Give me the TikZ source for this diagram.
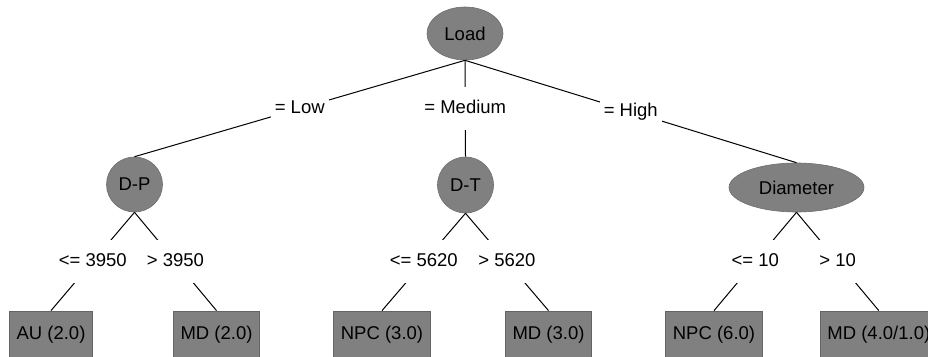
\documentclass[tikz,border=0pt]{standalone}
\usepackage{fontspec}
\setmainfont{Liberation Sans}
\usetikzlibrary{shapes.geometric}
\definecolor{nodegray}{RGB}{128,128,128}
\definecolor{edgegray}{RGB}{100,100,100}
\tikzset{
  every node/.style={font=\fontsize{18.5}{22}\selectfont},
  splitnode/.style={ellipse, fill=nodegray, draw=nodegray!85!black, line width=0.6pt, inner sep=0pt},
  leafbox/.style={rectangle, fill=nodegray, draw=edgegray, line width=0.8pt, minimum height=46pt, inner xsep=7pt, inner ysep=0pt, text height=13.5pt, text depth=3.5pt},
  branch/.style={draw=black, line width=1pt},
  cond/.style={fill=white, inner xsep=4pt, inner ysep=0pt, minimum height=43pt, text height=13.5pt, text depth=3.5pt},
}
\begin{document}
\begin{tikzpicture}[x=1pt, y=-1pt]
  \useasboundingbox (0,0) rectangle (928,356);
  \clip (0,0) rectangle (928,356);

  % split nodes
  \node[splitnode, minimum width=76pt, minimum height=53pt] (load) at (465,33.5) {Load};
  \node[splitnode, minimum width=56pt, minimum height=55pt] (dp) at (134.5,184.5) {D-P};
  \node[splitnode, minimum width=56pt, minimum height=56pt] (dt) at (465.5,185) {D-T};
  \node[splitnode, minimum width=135pt, minimum height=49pt] (diam) at (796.5,187.5) {Diameter};

  % leaves
  \node[leafbox] (au)   at (51,334)    {AU (2.0)};
  \node[leafbox] (md1)  at (216.5,334) {MD (2.0)};
  \node[leafbox] (npc1) at (382,334)   {NPC (3.0)};
  \node[leafbox] (md2)  at (548.5,334) {MD (3.0)};
  \node[leafbox] (npc2) at (714,334)   {NPC (6.0)};
  \node[leafbox, anchor=west] (md3) at (820,334) {MD (4.0/1.0)};

  % branches with their conditions
  \path[branch] (load.south) -- node[cond] (cLow) {= Low} (dp.north);
  \path[branch] (load.south) -- node[cond] (cMed) {= Medium} (dt.north);
  \path[branch] (load.south) -- node[cond] (cHigh) {= High} (diam.north);

  \path[branch] (dp.south) -- node[cond] (c1) {<= 3950} (au.north);
  \path[branch] (dp.south) -- node[cond] (c2) {> 3950} (md1.north);
  \path[branch] (dt.south) -- node[cond] (c3) {<= 5620} (npc1.north);
  \path[branch] (dt.south) -- node[cond] (c4) {> 5620} (md2.north);
  \path[branch] (diam.south) -- node[cond] (c5) {<= 10} (npc2.north);
  \path[branch] (diam.south) -- node[cond] (c6) {> 10} (md3.north);
\end{tikzpicture}
\end{document}
